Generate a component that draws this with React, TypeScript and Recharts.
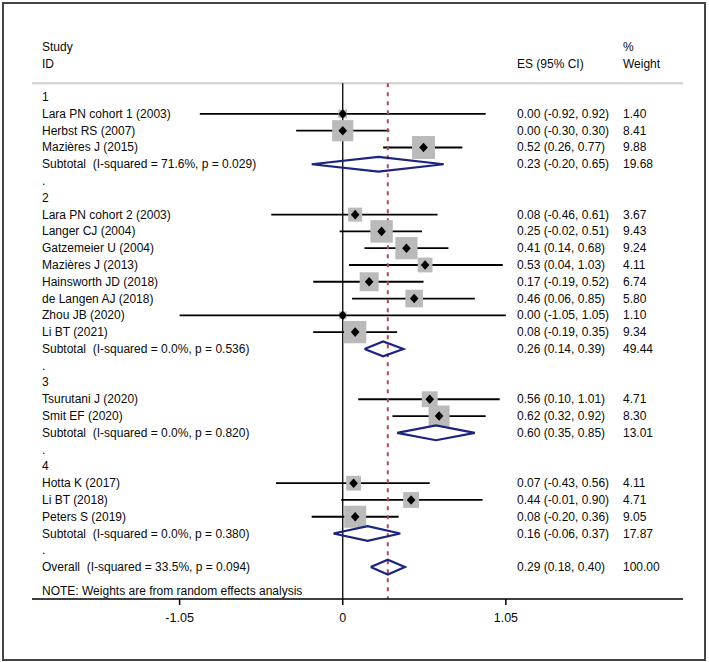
import { ScatterChart, Scatter, XAxis, YAxis, ReferenceLine, ErrorBar } from 'recharts';

const FONT = '"Liberation Sans", Arial, Helvetica, sans-serif';

// subgroups
const groupNames = ['1', '2', '3', '4'];

// individual studies
const studyNames = [
  'Lara PN cohort 1 (2003)', 'Herbst RS (2007)', 'Mazières J (2015)',
  'Lara PN cohort 2 (2003)', 'Langer CJ (2004)', 'Gatzemeier U (2004)', 'Mazières J (2013)',
  'Hainsworth JD (2018)', 'de Langen AJ (2018)', 'Zhou JB (2020)', 'Li BT (2021)',
  'Tsurutani J (2020)', 'Smit EF (2020)',
  'Hotta K (2017)', 'Li BT (2018)', 'Peters S (2019)',
];
const studyGroup = [0, 0, 0, 1, 1, 1, 1, 1, 1, 1, 1, 2, 2, 3, 3, 3];
const studyEs = [0.0, 0.0, 0.52, 0.08, 0.25, 0.41, 0.53, 0.17, 0.46, 0.0, 0.08, 0.56, 0.62, 0.07, 0.44, 0.08];
const studyLo = [-0.92, -0.3, 0.26, -0.46, -0.02, 0.14, 0.04, -0.19, 0.06, -1.05, -0.19, 0.1, 0.32, -0.43, -0.01, -0.2];
const studyHi = [0.92, 0.3, 0.77, 0.61, 0.51, 0.68, 1.03, 0.52, 0.85, 1.05, 0.35, 1.01, 0.92, 0.56, 0.9, 0.36];
const studyWeight = [1.4, 8.41, 9.88, 3.67, 9.43, 9.24, 4.11, 6.74, 5.8, 1.1, 9.34, 4.71, 8.3, 4.11, 4.71, 9.05];

// subtotals per group
const subI2 = ['71.6', '0.0', '0.0', '0.0'];
const subP = ['0.029', '0.536', '0.820', '0.380'];
const subEs = [0.23, 0.26, 0.6, 0.16];
const subLo = [-0.2, 0.14, 0.35, -0.06];
const subHi = [0.65, 0.39, 0.85, 0.37];
const subWeight = [19.68, 49.44, 13.01, 17.87];

// overall
const overallI2 = '33.5';
const overallP = '0.094';
const overallEs = 0.29;
const overallLo = 0.18;
const overallHi = 0.4;
const overallWeight = 100.0;

const xTicks = [-1.05, 0, 1.05];

type Row = { y: number; label: string; es?: string; w?: string };

const ci = (e: number, l: number, h: number) => `${e.toFixed(2)} (${l.toFixed(2)}, ${h.toFixed(2)})`;

// build table rows
const rows: Row[] = [
  { y: -3, label: 'Study', w: '%' },
  { y: -2, label: 'ID', es: 'ES (95% CI)', w: 'Weight' },
];
const points: any[] = [];
const diamonds: { x: number; y: number }[][] = [];
const DH = 0.44;
const diamond = (e: number, l: number, h: number, y: number) => [
  { x: l, y }, { x: e, y: y - DH }, { x: h, y }, { x: e, y: y + DH }, { x: l, y },
];

let r = 0;
groupNames.forEach((g, gi) => {
  rows.push({ y: r++, label: g });
  studyNames.forEach((name, i) => {
    if (studyGroup[i] !== gi) return;
    rows.push({ y: r, label: name, es: ci(studyEs[i], studyLo[i], studyHi[i]), w: studyWeight[i].toFixed(2) });
    points.push({ x: studyEs[i], y: r, weight: studyWeight[i], err: [studyEs[i] - studyLo[i], studyHi[i] - studyEs[i]] });
    r++;
  });
  rows.push({
    y: r,
    label: `Subtotal  (I-squared = ${subI2[gi]}%, p = ${subP[gi]})`,
    es: ci(subEs[gi], subLo[gi], subHi[gi]),
    w: subWeight[gi].toFixed(2),
  });
  diamonds.push(diamond(subEs[gi], subLo[gi], subHi[gi], r));
  r++;
  rows.push({ y: r++, label: '.' });
});
rows.push({
  y: r,
  label: `Overall  (I-squared = ${overallI2}%, p = ${overallP})`,
  es: ci(overallEs, overallLo, overallHi),
  w: overallWeight.toFixed(2),
});
diamonds.push(diamond(overallEs, overallLo, overallHi, r));
rows.push({ y: r + 1.4, label: 'NOTE: Weights are from random effects analysis' });

const rowByY = new Map(rows.map((row) => [row.y, row]));
const TOP = -0.83;
const BOTTOM = 29.9;

const RowTick = (props: any) => {
  const row = rowByY.get(props.payload.value);
  if (!row) return null;
  const common = {
    y: props.y,
    fontSize: 12,
    fontFamily: FONT,
    fill: '#0a0a0a',
    textAnchor: 'start' as const,
    dominantBaseline: 'central' as const,
    style: { whiteSpace: 'pre' as const },
  };
  return (
    <g>
      <text x={42} {...common}>{row.label}</text>
      {row.es && <text x={517} {...common}>{row.es}</text>}
      {row.w && <text x={623} {...common}>{row.w}</text>}
    </g>
  );
};

const BoxShape = (props: any) => {
  const s = 7.3 * Math.sqrt(props.payload.weight);
  return <rect x={props.cx - s / 2} y={props.cy - s / 2} width={s} height={s} fill="#bababa" />;
};

const PointShape = (props: any) => (
  <path
    d={`M${props.cx},${props.cy - 4.8} L${props.cx + 4.3},${props.cy} L${props.cx},${props.cy + 4.8} L${props.cx - 4.3},${props.cy} Z`}
    fill="#000"
  />
);

export default function App() {
  return (
    <div style={{ position: 'absolute', left: 0, top: 0, width: 709, height: 662, background: '#fff' }}>
      <div
        style={{ position: 'absolute', left: 2, top: 2, width: 700, height: 655, border: '2px solid #444' }}
      />
      <div style={{ position: 'absolute', left: 0, top: 0 }}>
        <ScatterChart width={709} height={662} margin={{ top: 30, right: 26, bottom: 33, left: 31 }}>
          <XAxis
            type="number"
            dataKey="x"
            domain={[-2.0, 2.19]}
            allowDataOverflow
            ticks={xTicks}
            height={30}
            tickSize={6}
            tickMargin={8}
            stroke="#000"
            strokeWidth={1.5}
            tick={{ fontSize: 12.5, fontFamily: FONT, fill: '#0a0a0a' }}
          />
          <YAxis
            type="number"
            dataKey="y"
            domain={[-4, BOTTOM]}
            allowDataOverflow
            reversed
            width={1}
            ticks={rows.map((row) => row.y)}
            interval={0}
            axisLine={false}
            tickLine={false}
            tick={<RowTick />}
          />
          <ReferenceLine y={TOP} stroke="#cfcfcf" strokeWidth={2} />
          <ReferenceLine segment={[{ x: 0, y: TOP }, { x: 0, y: BOTTOM }]} stroke="#000" strokeWidth={1.3} />
          <Scatter data={points} shape={<BoxShape />} isAnimationActive={false} />
          <Scatter data={points} shape={<PointShape />} isAnimationActive={false}>
            <ErrorBar dataKey="err" direction="x" width={0} stroke="#000" strokeWidth={1.8} />
          </Scatter>
          {diamonds.map((d, i) => (
            <Scatter
              key={i}
              data={d}
              line={{ stroke: '#1c2380', strokeWidth: 2.2 }}
              lineType="joint"
              shape={() => <g />}
              isAnimationActive={false}
            />
          ))}
          <ReferenceLine
            segment={[{ x: overallEs, y: TOP }, { x: overallEs, y: BOTTOM }]}
            stroke="#b04a58"
            strokeWidth={2}
            strokeDasharray="4 5"
          />
        </ScatterChart>
      </div>
    </div>
  );
}
